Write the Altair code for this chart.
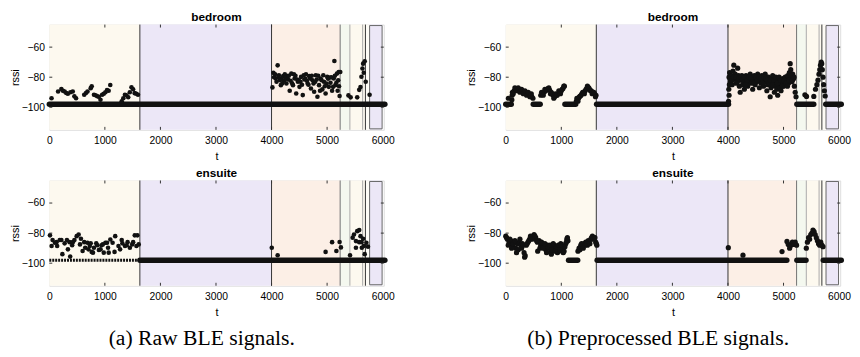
import altair as alt
import pandas as pd

# ---------------- data ----------------
XTICKS = [0, 1000, 2000, 3000, 4000, 5000, 6000]
YTICKS = [-100, -80, -60]
X_DOMAIN = [0, 6020]
Y_DOMAIN = [-115, -45]
FLOOR = -98  # rssi value of "no signal"

BAND_START = [0, 1630, 4000, 5235, 5410, 5640, 5690, 5765]
BAND_END = [1630, 4000, 5235, 5410, 5640, 5690, 5765, 5990]
BAND_ZONE = ["z1", "z2", "z3", "z4", "z1", "z1", "z5", "z2"]
ZONE_NAMES = ["z1", "z2", "z3", "z4", "z5"]
ZONE_COLORS = ["#fdf9ef", "#ece7f7", "#fcefe6", "#f4f8ef", "#fefcf6"]

LINE_T = [1630, 4000, 5235, 5410, 5640, 5690]
LINE_KIND = ["k1", "k1", "k2", "k3", "k3", "k1"]
LINE_KINDS = ["k1", "k2", "k3"]
LINE_COLORS = ["#333333", "#707070", "#a8a8a8"]

# raw bedroom (points above the floor)
RAW_BEDROOM = [
    (40, -94), (158, -89.5), (217, -87.8), (245, -89), (276, -89.5), (305, -90.5),
    (334, -91), (380, -90), (422, -89.5), (451, -92.7), (481, -94), (628, -91.7),
    (660, -90.5), (687, -89.5), (745, -87.3), (763, -86), (804, -91.7), (833, -92),
    (863, -92.7), (892, -93), (921, -95), (951, -91.7), (980, -91), (1010, -90),
    (1039, -88.5), (1068, -89), (1097, -85.2), (1303, -96), (1332, -94), (1361, -91.7),
    (1390, -92), (1420, -93.3), (1449, -90), (1479, -86.7), (1508, -88), (1537, -90.6),
    (1566, -91), (1596, -91.7),
    (4016, -86.8), (4033, -77.1), (4063, -78), (4110, -72.1), (4133, -78.7), (4168, -85.3),
    (4180, -80.9), (4209, -79.3), (4239, -78), (4268, -84.2), (4297, -81.5), (4327, -89),
    (4356, -77.6), (4386, -85.3), (4415, -80.9), (4444, -90.8), (4474, -83), (4503, -86.4),
    (4532, -79.8), (4562, -91.9), (4591, -81.5), (4620, -78), (4650, -84.2), (4679, -79.3),
    (4709, -87.5), (4738, -82), (4767, -89.7), (4797, -78.7), (4826, -93), (4855, -85.3),
    (4885, -80.9), (4914, -88.1), (4943, -83), (4973, -90.8), (5002, -79.8), (5031, -86.4),
    (5061, -83.7), (5090, -89), (5120, -80.9), (5131, -69.2), (5149, -85.3), (5178, -77.6),
    (5208, -76.5), (5225, -92.5), (5237, -76.5),
    (4075, -80.9), (4151, -82), (4227, -82.4), (4286, -79.3), (4344, -82.4), (4403, -78),
    (4462, -81.5), (4521, -83), (4580, -78.7), (4638, -82.4), (4697, -80.9), (4756, -84.2),
    (4814, -81.5), (4873, -89), (4932, -78.7), (4990, -84.2), (5049, -80.2), (5108, -86.4),
    (5167, -83.7), (5190, -89),
    (4045, -80), (4090, -83), (4122, -80), (4195, -84), (4255, -80), (4310, -79),
    (4370, -84), (4430, -79), (4490, -82), (4548, -85), (4608, -81), (4665, -85),
    (4725, -79), (4785, -83), (4840, -79), (4900, -82), (4958, -86), (5018, -81),
    (5078, -80), (5140, -79), (5200, -82), (5215, -86),
    (5384, -92.1), (5424, -93.4), (5542, -93.4), (5578, -88.4), (5601, -86.5), (5618, -79.7),
    (5636, -74.2), (5648, -71), (5677, -69.4), (5660, -77), (5695, -83), (5765, -91.7),
]

RAW_ENSUITE = [
    (12, -81.5), (41, -88.6), (59, -84.6), (100, -86.4), (129, -86), (141, -88.6),
    (188, -84.6), (217, -84.6), (235, -94), (276, -86.8), (317, -84.6), (335, -90.8),
    (364, -86), (376, -95.6), (411, -88.1), (423, -86), (452, -84.6), (493, -82),
    (528, -80.9), (552, -87.5), (569, -83.7), (599, -91.9), (628, -86), (646, -89.7),
    (687, -86.4), (704, -90.8), (728, -88.6), (745, -86.8), (763, -92.5), (786, -93),
    (804, -89.7), (845, -86.8), (863, -88.1), (892, -91.2), (922, -90.8), (939, -88.1),
    (963, -87.5), (980, -93), (1010, -86.4), (1039, -86.4), (1057, -89.7), (1069, -93),
    (1098, -84.2), (1139, -86.4), (1174, -92.5), (1186, -82), (1245, -88.6), (1274, -90.8),
    (1303, -84.6), (1315, -86.8), (1362, -88.6), (1391, -88.1), (1409, -86), (1450, -89.7),
    (1491, -87.5), (1509, -86), (1538, -81.5), (1568, -88.6), (1585, -81.5), (1609, -87.5),
    (4004, -89.7), (4110, -94.7), (4973, -92.5), (5090, -86), (5167, -91.9), (5225, -85.9),
    (5249, -89.5), (5413, -94.7), (5460, -83), (5484, -80.9), (5519, -85.3), (5519, -89.7),
    (5542, -78.7), (5578, -78), (5578, -86), (5601, -82), (5619, -86), (5625, -89.7),
    (5648, -83.7), (5660, -88.6), (5677, -94), (5707, -86.4), (5736, -89),
]

PRE_BEDROOM = [
    (47, -94), (110, -95), (115, -92), (120, -90), (150, -89), (180, -88), (210, -87.5),
    (240, -88), (270, -89), (300, -89.5), (330, -90), (360, -90.5), (390, -91), (420, -91.5),
    (450, -92), (470, -93), (490, -94),
    (135, -91), (165, -87), (195, -89), (225, -87), (255, -90), (285, -88), (315, -91),
    (345, -89), (375, -92), (405, -90), (435, -93), (460, -91),
    (630, -92), (660, -91), (690, -90), (720, -89), (760, -87.5), (790, -88.5), (820, -90),
    (850, -92), (880, -93), (910, -92), (940, -91), (970, -90), (1000, -89), (1030, -87.5),
    (1055, -86),
    (645, -90), (675, -92), (705, -88), (740, -88), (775, -87), (805, -91), (835, -91),
    (865, -94), (895, -91), (925, -92), (955, -89), (985, -91), (1015, -88), (1045, -86),
    (1270, -96), (1290, -95), (1310, -94), (1340, -92.5), (1370, -91), (1400, -90),
    (1430, -89), (1460, -87.5), (1480, -86.5), (1510, -88), (1540, -89), (1570, -90),
    (1600, -91), (1625, -92),
    (1280, -94), (1300, -96), (1325, -93), (1355, -92), (1385, -90), (1415, -91),
    (1445, -88), (1470, -86), (1495, -87), (1525, -89), (1555, -91), (1585, -90), (1615, -93),
    (4010, -96), (4015, -88), (4020, -80), (4020, -92), (4025, -85), (4030, -77),
    (4045, -83), (4060, -79), (4075, -85), (4090, -76), (4105, -72), (4115, -81),
    (4130, -78), (4145, -84), (4160, -80), (4175, -74), (4190, -79), (4205, -86),
    (4220, -90), (4235, -82), (4250, -79), (4265, -85), (4280, -81), (4295, -88),
    (4310, -83), (4325, -79), (4340, -81), (4355, -86), (4370, -80), (4385, -83),
    (4400, -78), (4415, -84), (4430, -81), (4445, -88), (4460, -82), (4475, -79),
    (4490, -85), (4505, -81), (4520, -83), (4535, -78), (4550, -82), (4565, -87),
    (4580, -80), (4595, -84), (4610, -79), (4625, -82), (4640, -86), (4655, -81),
    (4670, -78), (4685, -83), (4700, -89), (4715, -85), (4730, -80), (4745, -82),
    (4760, -93), (4775, -87), (4790, -81), (4805, -79), (4820, -84), (4835, -90),
    (4850, -86), (4865, -82), (4880, -88), (4895, -92), (4910, -85), (4925, -83),
    (4940, -87), (4955, -89), (4970, -84), (4985, -81), (5000, -86), (5015, -83),
    (5030, -80), (5045, -85), (5060, -82), (5075, -79), (5090, -84), (5105, -77),
    (5120, -71), (5130, -75), (5140, -80), (5150, -83), (5165, -78), (5180, -81),
    (5195, -86), (5210, -90), (5225, -93),
    (4040, -81), (4070, -82), (4100, -80), (4140, -80), (4170, -83), (4200, -81),
    (4230, -80), (4260, -82), (4290, -80), (4320, -85), (4350, -82), (4380, -80),
    (4410, -81), (4440, -83), (4470, -84), (4500, -80), (4530, -82), (4560, -80),
    (4590, -81), (4620, -84), (4650, -80), (4680, -81), (4710, -82), (4740, -84),
    (4770, -82), (4800, -85), (4830, -82), (4860, -80), (4890, -84), (4920, -80),
    (4950, -82), (4980, -86), (5010, -82), (5040, -84), (5070, -86), (5100, -82),
    (5160, -82), (5190, -80),
    (5385, -91.7), (5414, -92.8), (5545, -92.8), (5575, -88), (5600, -85), (5620, -82),
    (5638, -78), (5652, -75), (5665, -72), (5678, -70), (5688, -71), (5698, -75),
    (5710, -80), (5722, -85), (5735, -89), (5750, -92.5),
]

PRE_ENSUITE = [
    (0, -82), (30, -84), (60, -86), (90, -85), (120, -88), (150, -86), (180, -90),
    (194, -93), (210, -87), (240, -86), (270, -88), (300, -87), (330, -93), (340, -96),
    (350, -95), (370, -88), (400, -86), (430, -84), (460, -83), (490, -82), (510, -81),
    (540, -83), (570, -86), (575, -92), (600, -85), (630, -88), (660, -87), (690, -89),
    (720, -91), (750, -88), (780, -90), (810, -92), (821, -94), (840, -89), (870, -88),
    (900, -90), (930, -93), (956, -92), (960, -89), (990, -87), (1020, -90), (1050, -92),
    (1080, -87), (1100, -84), (1120, -85),
    (15, -83), (45, -88), (75, -84), (105, -90), (135, -87), (165, -85), (225, -91),
    (255, -84), (285, -90), (315, -88), (385, -87), (415, -85), (445, -82), (475, -84),
    (525, -82), (555, -85), (615, -90), (645, -86), (675, -90), (705, -87), (735, -93),
    (765, -89), (795, -88), (825, -91), (855, -87), (885, -92), (915, -89), (945, -88),
    (975, -91), (1005, -88), (1035, -93), (1065, -89), (1090, -86), (1110, -83),
    (1300, -92), (1320, -90), (1350, -88), (1380, -89), (1410, -87), (1440, -86),
    (1470, -88), (1500, -86), (1530, -84), (1560, -82), (1590, -83), (1620, -86), (1640, -88),
    (1335, -91), (1365, -87), (1395, -90), (1425, -88), (1455, -87), (1485, -85),
    (1515, -87), (1545, -83), (1575, -84), (1605, -83), (1630, -87),
    (4006, -89.7), (4270, -94.7), (4973, -92.3),
    (5062, -85.5), (5085, -87.5), (5110, -90), (5135, -88), (5160, -86), (5185, -87.5),
    (5210, -86), (5235, -88),
    (5410, -90), (5430, -86), (5450, -83), (5470, -84), (5490, -81), (5510, -80),
    (5530, -78), (5550, -79), (5570, -81), (5590, -83), (5610, -85), (5630, -87),
    (5650, -88), (5670, -86), (5690, -88), (5710, -89),
]

# floor segments (t ranges where the signal sits at FLOOR)
RAW_BEDROOM_FLOOR = [(0, 6040)]
RAW_ENSUITE_FLOOR = [(1630, 6040)]
RAW_ENSUITE_SPARSE_FLOOR = [(0, 1630)]
PRE_BEDROOM_FLOOR = [(0, 100), (495, 620), (1065, 1260), (1635, 4010), (5240, 5545), (5760, 6040)]
PRE_ENSUITE_FLOOR = [(1130, 1295), (1645, 5060), (5240, 5405), (5715, 6040)]

# ---------------- style ----------------
W, H = 340, 107
FONT = "Liberation Sans"
INK = "#262626"

xs = alt.Scale(domain=X_DOMAIN, nice=False, zero=False)
ys = alt.Scale(domain=Y_DOMAIN, nice=False, zero=False)
xax = alt.Axis(values=XTICKS, grid=False, ticks=False, domain=False, labelPadding=6,
               title="t", titlePadding=5, labelFlush=False, format="d",
               titleFontWeight="normal", labelFontSize=10.5, titleFontSize=11,
               labelFont=FONT, titleFont=FONT)
yax = alt.Axis(values=YTICKS, grid=False, ticks=False, domain=False, labelPadding=5,
               title="rssi", titlePadding=1, format="d",
               titleFontWeight="normal", labelFontSize=10.5, titleFontSize=11,
               labelFont=FONT, titleFont=FONT)


def floor_df(segs):
    return pd.DataFrame({"start": [a for a, b in segs], "end": [b for a, b in segs],
                         "rssi": [FLOOR for _ in segs]})


def panel(title, pts, floors, sparse_floors=None, size=22):
    bands = pd.DataFrame({"start": BAND_START, "end": BAND_END, "zone": BAND_ZONE})
    lines = pd.DataFrame({"t": LINE_T, "kind": LINE_KIND})
    pdf = pd.DataFrame(pts, columns=["t", "rssi"])

    band_layer = alt.Chart(bands).mark_rect().encode(
        x=alt.X("start:Q", scale=xs, axis=xax),
        x2="end:Q",
        fill=alt.Fill("zone:N", scale=alt.Scale(domain=ZONE_NAMES, range=ZONE_COLORS), legend=None),
    )
    last_box = alt.Chart(bands.tail(1)).mark_rect(filled=False, stroke="#666666", strokeWidth=1).encode(
        x=alt.X("start:Q", scale=xs, axis=xax), x2="end:Q",
        y=alt.value(1), y2=alt.value(H - 1),
    )
    line_layer = alt.Chart(lines).mark_rule(strokeWidth=1).encode(
        x=alt.X("t:Q", scale=xs, axis=xax),
        y=alt.value(0), y2=alt.value(H),
        stroke=alt.Stroke("kind:N", scale=alt.Scale(domain=LINE_KINDS, range=LINE_COLORS), legend=None),
    )
    fdf = floor_df(floors)
    floor_layer = alt.Chart(fdf).mark_rule(color="#111111", strokeWidth=5.5, strokeCap="round").encode(
        x=alt.X("start:Q", scale=xs, axis=xax), x2="end:Q",
        y=alt.Y("rssi:Q", scale=ys, axis=yax),
    )
    layers = [band_layer, last_box, line_layer, floor_layer]
    if sparse_floors:
        sdf = floor_df(sparse_floors)
        layers.append(alt.Chart(sdf).mark_rule(color="#111111", strokeWidth=3, strokeDash=[2, 1]).encode(
            x=alt.X("start:Q", scale=xs, axis=xax), x2="end:Q",
            y=alt.Y("rssi:Q", scale=ys, axis=yax),
        ))
    pt_layer = alt.Chart(pdf).mark_circle(color="#111111", opacity=1, size=size).encode(
        x=alt.X("t:Q", scale=xs, axis=xax),
        y=alt.Y("rssi:Q", scale=ys, axis=yax),
    )
    layers.append(pt_layer)

    xt = pd.DataFrame({"t": XTICKS[1:-1]})
    yt = pd.DataFrame({"v": YTICKS})
    tk = dict(color="#333333", strokeWidth=1)
    layers += [
        alt.Chart(xt).mark_rule(**tk).encode(x=alt.X("t:Q", scale=xs, axis=xax), y=alt.value(0), y2=alt.value(3)),
        alt.Chart(xt).mark_rule(**tk).encode(x=alt.X("t:Q", scale=xs, axis=xax), y=alt.value(H - 3), y2=alt.value(H)),
        alt.Chart(yt).mark_rule(**tk).encode(y=alt.Y("v:Q", scale=ys, axis=yax), x=alt.value(0), x2=alt.value(3)),
        alt.Chart(yt).mark_rule(**tk).encode(y=alt.Y("v:Q", scale=ys, axis=yax), x=alt.value(W - 3), x2=alt.value(W)),
    ]
    return alt.layer(*layers).properties(
        width=W, height=H,
        title=alt.TitleParams(title, fontSize=12, fontWeight="bold", offset=0, font=FONT, color="#000000"),
    )


def column(caption, top, bottom):
    return alt.vconcat(top, bottom, spacing=4.5).properties(
        title=alt.TitleParams(caption, orient="bottom", font="Liberation Serif", fontSize=22,
                              fontWeight="normal", color="#000000", offset=10, anchor="middle")
    )


col_a = column("(a) Raw BLE signals.",
               panel("bedroom", RAW_BEDROOM, RAW_BEDROOM_FLOOR),
               panel("ensuite", RAW_ENSUITE, RAW_ENSUITE_FLOOR, RAW_ENSUITE_SPARSE_FLOOR))
col_b = column("(b) Preprocessed BLE signals.",
               panel("bedroom", PRE_BEDROOM, PRE_BEDROOM_FLOOR, size=28),
               panel("ensuite", PRE_ENSUITE, PRE_ENSUITE_FLOOR, size=28))

chart = alt.hconcat(col_a, col_b, spacing=70).properties(
    padding={"left": 0, "top": 0, "right": 0, "bottom": 0}
).configure_view(
    stroke="#333333", strokeWidth=1
).configure_axis(
    labelColor=INK, titleColor=INK, titleFontWeight="normal"
).configure(background="#ffffff")

chart.save("out.html", embed_options={"renderer": "svg", "actions": False})
